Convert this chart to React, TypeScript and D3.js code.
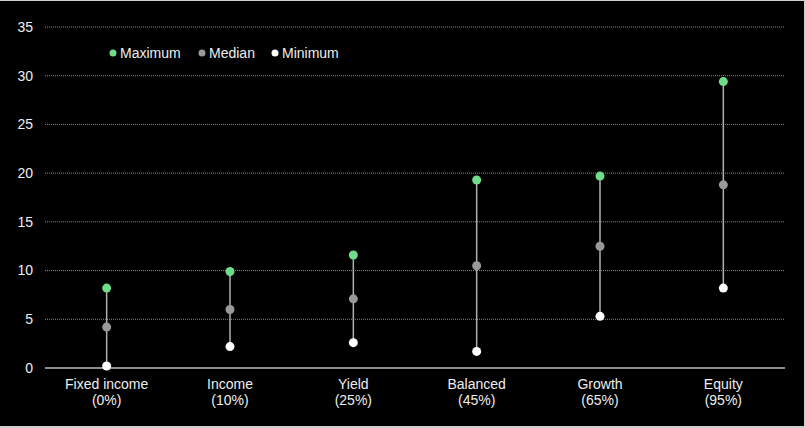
import React from "react";
import * as d3 from "d3";

const categories = ["Fixed income", "Income", "Yield", "Balanced", "Growth", "Equity"];
const subLabels = ["(0%)", "(10%)", "(25%)", "(45%)", "(65%)", "(95%)"];
const maximum = [8.2, 9.9, 11.6, 19.3, 19.7, 29.4];
const median = [4.2, 6.0, 7.1, 10.5, 12.5, 18.8];
const minimum = [0.2, 2.2, 2.6, 1.7, 5.3, 8.2];
const yTicks = [0, 5, 10, 15, 20, 25, 30, 35];
const legendItems = [
  { label: "Maximum", color: "#6fdc8c" },
  { label: "Median", color: "#999999" },
  { label: "Minimum", color: "#ffffff" },
];

const W = 806;
const H = 428;
const left = 45;
const right = 785;
const top = 27;
const bottom = 368;

export default function App() {
  const x = d3.scaleBand<string>().domain(categories).range([left, right]);
  const y = d3.scaleLinear().domain([0, 35]).range([bottom, top]);
  const font = "'Liberation Sans', Arial, sans-serif";
  const cx = (c: string) => (x(c) as number) + x.bandwidth() / 2;

  const legendX = [113, 202, 275];

  return (
    <div style={{ position: "fixed", left: 0, top: 0, width: W, height: H }}>
      <svg width={W} height={H} style={{ display: "block" }}>
        <rect x={0} y={0} width={W} height={H} fill="#d0d0d0" />
        <rect x={0} y={1} width={804} height={425} fill="#000" />
        {yTicks.map((t) => (
          <g key={t}>
            {t > 0 && (
              <line
                x1={left}
                x2={right}
                y1={y(t)}
                y2={y(t)}
                stroke="#8a8a8a"
                strokeWidth={1}
                strokeDasharray="1 1"
              />
            )}
            <text
              x={33}
              y={y(t)}
              dy="0.35em"
              textAnchor="end"
              fill="#eeeeee"
              fontSize={14}
              fontFamily={font}
            >
              {t}
            </text>
          </g>
        ))}
        <line x1={left} x2={right} y1={y(0)} y2={y(0)} stroke="#bdbdbd" strokeWidth={1.5} />
        {categories.map((c, i) => (
          <g key={c}>
            <line
              x1={cx(c)}
              x2={cx(c)}
              y1={y(minimum[i])}
              y2={y(maximum[i])}
              stroke="#b0b0b0"
              strokeWidth={1.5}
            />
            <circle cx={cx(c)} cy={y(maximum[i])} r={4.5} fill={legendItems[0].color} />
            <circle cx={cx(c)} cy={y(median[i])} r={4.5} fill={legendItems[1].color} />
            <circle cx={cx(c)} cy={y(minimum[i])} r={4.5} fill={legendItems[2].color} />
            <text
              x={cx(c)}
              y={389}
              textAnchor="middle"
              fill="#eeeeee"
              fontSize={14}
              fontFamily={font}
            >
              {c}
            </text>
            <text
              x={cx(c)}
              y={405}
              textAnchor="middle"
              fill="#eeeeee"
              fontSize={14}
              fontFamily={font}
            >
              {subLabels[i]}
            </text>
          </g>
        ))}
        {legendItems.map((l, i) => (
          <g key={l.label}>
            <circle cx={legendX[i]} cy={53} r={3.5} fill={l.color} />
            <text
              x={legendX[i] + 7}
              y={53}
              dy="0.35em"
              fill="#eeeeee"
              fontSize={14}
              fontFamily={font}
            >
              {l.label}
            </text>
          </g>
        ))}
      </svg>
    </div>
  );
}
